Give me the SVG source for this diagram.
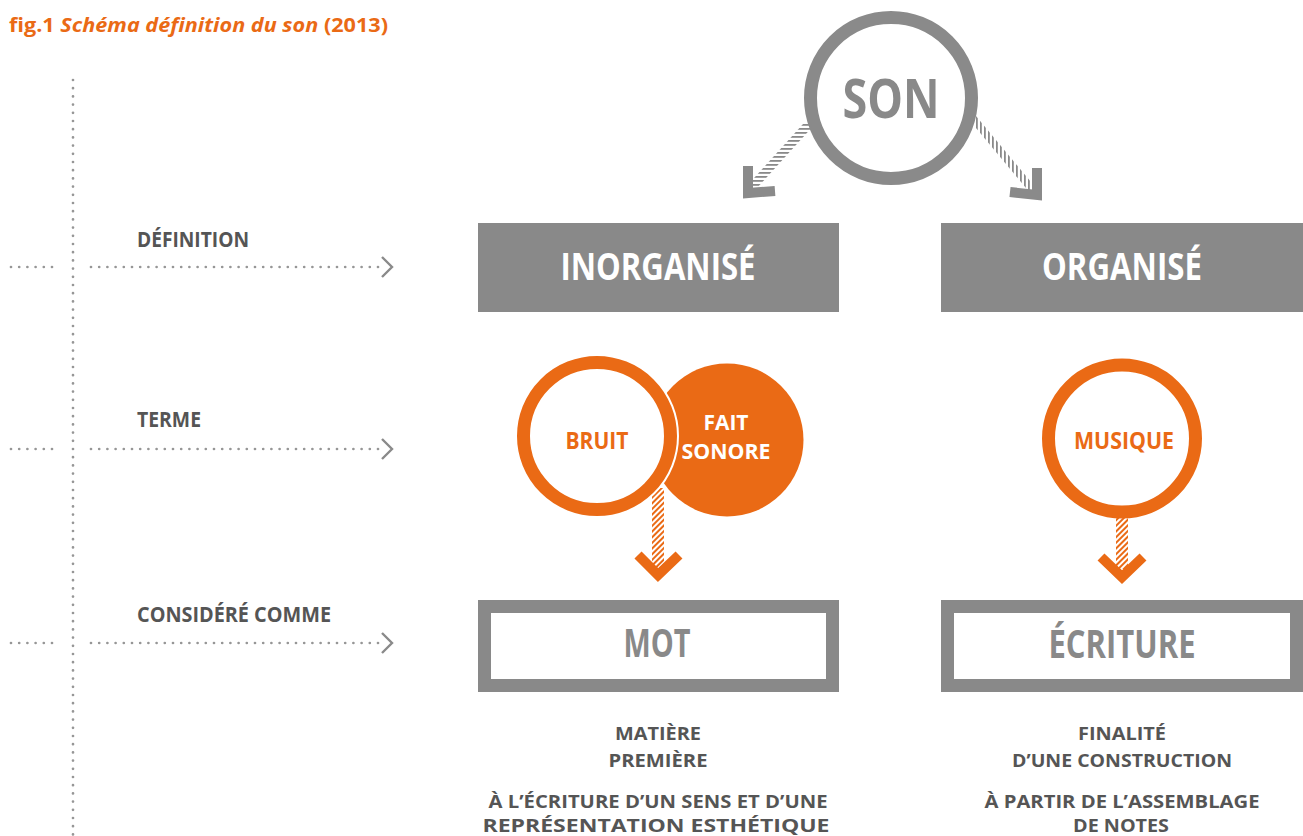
<svg xmlns="http://www.w3.org/2000/svg" width="1303" height="836" viewBox="0 0 1303 836">
<style>
  text { font-family: "Open Sans", "Noto Sans", "Liberation Sans", sans-serif; font-weight: 700; }
  .lbl { font-size: 21px; fill: #555555; }
  .sub { font-size: 18.5px; fill: #555555; text-anchor: middle; }
  .big { fill: #ffffff; font-size: 38px; text-anchor: middle; }
  .box2 { fill: #898989; font-size: 39px; text-anchor: middle; }
  .dot { stroke: #969696; stroke-width: 2.7; stroke-dasharray: 0 8.2; stroke-linecap: round; fill: none; }
  .chev { stroke: #8a8a8a; stroke-width: 2.4; fill: none; }
  .or { fill: #ea6a15; }
</style>
<defs>
  <pattern id="hatchO" patternUnits="userSpaceOnUse" width="4" height="4" patternTransform="rotate(-45)">
    <rect width="4" height="4" fill="#ffffff"/>
    <rect width="4" height="2" fill="#ea6a15"/>
  </pattern>
  <pattern id="hatchH" patternUnits="userSpaceOnUse" width="4" height="4">
    <rect width="4" height="1.8" fill="#8a8a8a"/>
  </pattern>
  <pattern id="hatchV" patternUnits="userSpaceOnUse" width="4" height="4">
    <rect width="1.8" height="4" fill="#8a8a8a"/>
  </pattern>
</defs>
<rect width="1303" height="836" fill="#ffffff"/>

<g id="title">
  <text x="9" y="32" font-size="20" fill="#ea6a15" textLength="379" lengthAdjust="spacingAndGlyphs">fig.1 <tspan font-style="italic">Schéma définition du son</tspan> (2013)</text>
</g>

<g id="axes">
  <line class="dot" x1="73" y1="80" x2="73" y2="836"/>
  <line class="dot" x1="11" y1="267" x2="60" y2="267"/>
  <line class="dot" x1="91" y1="267" x2="386" y2="267"/>
  <polyline class="chev" points="382,257 392,267 382,277"/>
  <line class="dot" x1="11" y1="449" x2="60" y2="449"/>
  <line class="dot" x1="91" y1="449" x2="386" y2="449"/>
  <polyline class="chev" points="382,439 392,449 382,459"/>
  <line class="dot" x1="11" y1="643" x2="60" y2="643"/>
  <line class="dot" x1="91" y1="643" x2="386" y2="643"/>
  <polyline class="chev" points="382,633 392,643 382,653"/>
</g>

<g id="labels">
  <text class="lbl" x="137" y="247" textLength="112" lengthAdjust="spacingAndGlyphs">DÉFINITION</text>
  <text class="lbl" x="137" y="427" textLength="64" lengthAdjust="spacingAndGlyphs">TERME</text>
  <text class="lbl" x="137" y="622" textLength="194" lengthAdjust="spacingAndGlyphs">CONSIDÉRÉ COMME</text>
</g>

<g id="connectors">
  <polygon points="803,124 815,124 757,188 745,188" fill="url(#hatchH)"/>
  <path d="M748,166 L748,193 L775,191" stroke="#8a8a8a" stroke-width="10" fill="none"/>
  <polygon points="976,116 1031,182 1031,194 976,128" fill="url(#hatchV)"/>
  <path d="M1037,168 L1037,195 L1010,192" stroke="#8a8a8a" stroke-width="10" fill="none"/>
  <rect x="652" y="488" width="12" height="80" fill="url(#hatchO)"/>
  <path d="M638,555 L658,575 L679,555" stroke="#ea6a15" stroke-width="10" fill="none"/>
  <rect x="1116" y="515" width="12" height="54" fill="url(#hatchO)"/>
  <path d="M1101,557 L1122,577 L1143,557" stroke="#ea6a15" stroke-width="10" fill="none"/>
</g>

<g id="son">
  <circle cx="891" cy="98" r="80.5" fill="#ffffff" stroke="#8a8a8a" stroke-width="13"/>
  <text x="891" y="118" font-size="53" fill="#898989" text-anchor="middle" textLength="97" lengthAdjust="spacingAndGlyphs">SON</text>
</g>

<g id="inorganise">
  <rect x="478" y="223" width="361" height="89" fill="#898989"/>
  <text class="big" x="658" y="280" textLength="195" lengthAdjust="spacingAndGlyphs">INORGANISÉ</text>
</g>

<g id="organise">
  <rect x="941" y="223" width="362" height="89" fill="#898989"/>
  <text class="big" x="1122" y="280" textLength="160" lengthAdjust="spacingAndGlyphs">ORGANISÉ</text>
</g>

<g id="fait-sonore">
  <circle class="or" cx="727" cy="440" r="76.5"/>
  <text x="726" y="430" font-size="22" fill="#ffffff" text-anchor="middle" textLength="45" lengthAdjust="spacingAndGlyphs">FAIT</text>
  <text x="726" y="459" font-size="22" fill="#ffffff" text-anchor="middle" textLength="89" lengthAdjust="spacingAndGlyphs">SONORE</text>
</g>

<g id="bruit">
  <circle cx="597" cy="436" r="73.5" fill="none" stroke="#ffffff" stroke-width="17"/>
  <circle cx="597" cy="436" r="73.5" fill="#ffffff" stroke="#ea6a15" stroke-width="13"/>
  <text x="597" y="449" font-size="23" fill="#ea6a15" text-anchor="middle" textLength="63" lengthAdjust="spacingAndGlyphs">BRUIT</text>
</g>

<g id="musique">
  <circle cx="1122" cy="438.5" r="73.5" fill="#ffffff" stroke="#ea6a15" stroke-width="13"/>
  <text x="1124" y="449" font-size="24" fill="#ea6a15" text-anchor="middle" textLength="100" lengthAdjust="spacingAndGlyphs">MUSIQUE</text>
</g>

<g id="mot">
  <rect x="484.5" y="606.5" width="348" height="79" fill="#ffffff" stroke="#898989" stroke-width="13"/>
  <text class="box2" x="657" y="657" textLength="67" lengthAdjust="spacingAndGlyphs">MOT</text>
</g>

<g id="ecriture">
  <rect x="947.5" y="606.5" width="349" height="79" fill="#ffffff" stroke="#898989" stroke-width="13"/>
  <text class="box2" x="1122" y="658" textLength="147" lengthAdjust="spacingAndGlyphs">ÉCRITURE</text>
</g>

<g id="desc-left">
  <text class="sub" x="658" y="740" textLength="86" lengthAdjust="spacingAndGlyphs">MATIÈRE</text>
  <text class="sub" x="658" y="767" textLength="99" lengthAdjust="spacingAndGlyphs">PREMIÈRE</text>
  <text class="sub" x="658" y="808" textLength="339" lengthAdjust="spacingAndGlyphs">À L’ÉCRITURE D’UN SENS ET D’UNE</text>
  <text class="sub" x="656" y="832" textLength="347" lengthAdjust="spacingAndGlyphs">REPRÉSENTATION ESTHÉTIQUE</text>
</g>

<g id="desc-right">
  <text class="sub" x="1122" y="740" textLength="88" lengthAdjust="spacingAndGlyphs">FINALITÉ</text>
  <text class="sub" x="1122" y="767" textLength="220" lengthAdjust="spacingAndGlyphs">D’UNE CONSTRUCTION</text>
  <text class="sub" x="1122" y="808" textLength="275" lengthAdjust="spacingAndGlyphs">À PARTIR DE L’ASSEMBLAGE</text>
  <text class="sub" x="1121" y="832" textLength="96" lengthAdjust="spacingAndGlyphs">DE NOTES</text>
</g>
</svg>
